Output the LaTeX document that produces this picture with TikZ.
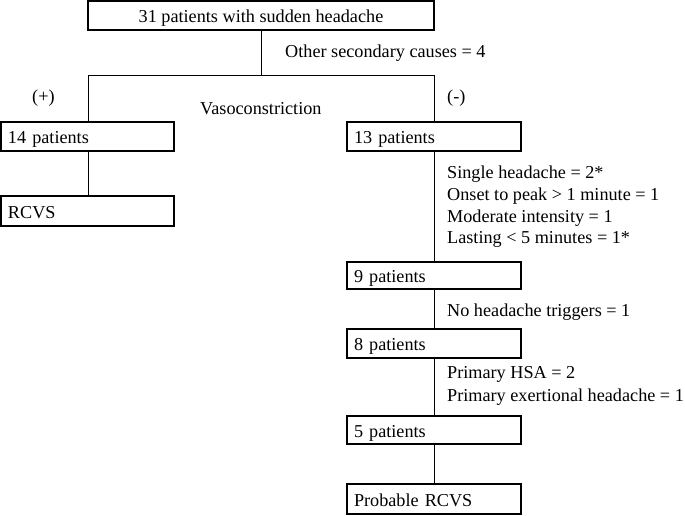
\documentclass[tikz,border=0pt]{standalone}
\usepackage{fontspec}
\setmainfont{Liberation Serif}
\begin{document}
\begin{tikzpicture}[x=1pt,y=-1pt,
  every node/.style={font=\fontsize{18.2}{21}\selectfont},
  boxl/.style={draw, line width=1.9pt, inner xsep=7pt, inner ysep=0pt, align=left, text height=14pt, text depth=0pt, minimum height=#1},
  boxl/.default=29pt,
  lbl/.style={anchor=base west, inner sep=0pt},
  conn/.style={line width=0.7pt}]
\useasboundingbox (0,0) rectangle (685,515);
% boxes
\node[draw, line width=1.9pt, minimum width=346pt, minimum height=29pt, inner sep=0pt, outer sep=0pt, text height=13pt, text depth=0pt] (top) at (261,15.5) {31 patients with sudden headache};
\node[boxl, text width=159pt, outer sep=0pt] (p14) at (87.5,136.5) {14 patients};
\node[boxl=30pt, text width=159pt, outer sep=0pt] (rcvs) at (87.5,211) {RCVS};
\node[boxl, text width=160pt, outer sep=0pt] (p13) at (434,136.5) {13 patients};
\node[boxl=27pt, text width=160pt, outer sep=0pt] (p9) at (434,275.5) {9 patients};
\node[boxl, text width=160pt, outer sep=0pt] (p8) at (434,343.5) {8 patients};
\node[boxl=28pt, text width=160pt, outer sep=0pt] (p5) at (434,430) {5 patients};
\node[boxl=30pt, text width=160pt, outer sep=0pt] (prob) at (434,499) {Probable RCVS};
% connectors
\coordinate (split) at (261,75);
\coordinate (lsplit) at (88,75);
\coordinate (rsplit) at (434,75);
\draw[conn] (top.south) -- (split);
\draw[conn] (lsplit) -- (rsplit);
\draw[conn] (lsplit) -- (lsplit |- p14.north);
\draw[conn] (rsplit) -- (p13.north);
\draw[conn] (lsplit |- p14.south) -- (lsplit |- rcvs.north);
\draw[conn] (p13.south) -- (p9.north);
\draw[conn] (p9.south) -- (p8.north);
\draw[conn] (p8.south) -- (p5.north);
\draw[conn] (p5.south) -- (prob.north);
% labels
\node[lbl] (oth) at (285,57) {Other secondary causes = 4};
\node[lbl] (plus) at (32,102) {(+)};
\node[lbl] (vaso) at (200,114) {Vasoconstriction};
\node[lbl] (minus) at (447,102) {(-)};
\node[lbl] (l1) at (447,178) {Single headache = 2*};
\node[lbl] (l2) at (447,200) {Onset to peak > 1 minute = 1};
\node[lbl] (l3) at (447,222) {Moderate intensity = 1};
\node[lbl] (l4) at (447,243) {Lasting < 5 minutes = 1*};
\node[lbl] (l5) at (447,316) {No headache triggers = 1};
\node[lbl] (l6) at (447,378) {Primary HSA = 2};
\node[lbl] (l7) at (447,401) {Primary exertional headache = 1};
\end{tikzpicture}
\end{document}
